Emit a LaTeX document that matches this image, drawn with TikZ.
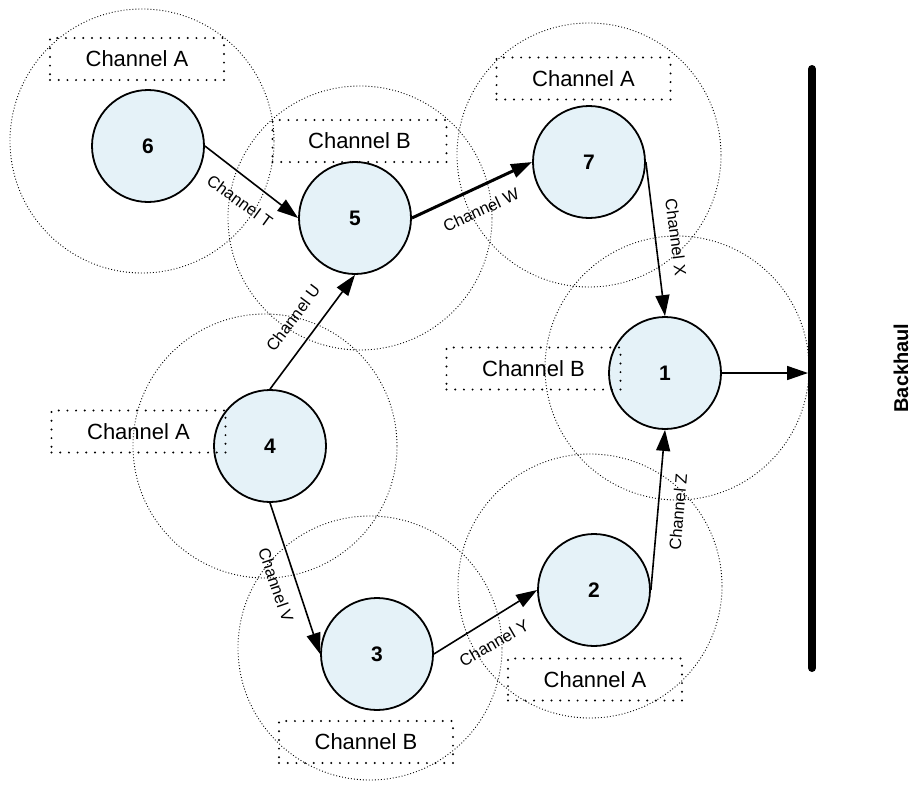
\documentclass[tikz,border=0pt]{standalone}
\usepackage{fontspec}
\setmainfont{Liberation Sans}
\usetikzlibrary{arrows.meta}
\definecolor{nodefill}{RGB}{229,242,248}
\begin{document}
\begin{tikzpicture}[x=1pt,y=-1pt,
  station/.style={circle, draw, line width=1.8pt, fill=nodefill,
    minimum size=112pt, inner sep=0pt, font=\fontsize{21}{24}\selectfont\bfseries},
  coverage/.style={draw, line width=0.9pt, dash pattern=on 0.9pt off 2.1pt},
  chanbox/.style={draw, line width=2.2pt, dash pattern=on 0pt off 8.7pt,
    line cap=round, minimum width=174pt, minimum height=42pt, inner sep=0pt,
    font=\fontsize{22}{26}\selectfont},
  link/.style={line width=1.6pt, -{Triangle[length=21pt,width=14pt]}},
  elabel/.style={font=\fontsize{16.5}{19}\selectfont, inner sep=1pt},
]
\useasboundingbox (0,0) rectangle (916,785);

% coverage areas of the stations
\coordinate (c6) at (142,141);
\coordinate (c5) at (360,218);
\coordinate (c7) at (589,155);
\coordinate (c1) at (677,368);
\coordinate (c4) at (265,446);
\coordinate (c3) at (370,648);
\coordinate (c2) at (590,586);
\foreach \c in {c6,c5,c7,c1,c4,c3,c2}
  \draw[coverage] (\c) circle[radius=132pt];

% stations
\node[station] (n6) at (148,146) {6};
\node[station] (n5) at (355,218) {5};
\node[station] (n7) at (589,162) {7};
\node[station] (n1) at (665,373) {1};
\node[station] (n4) at (270,446) {4};
\node[station] (n3) at (377,654) {3};
\node[station] (n2) at (594,590) {2};

% backhaul bus
\coordinate (bhtop) at (812,69);
\coordinate (bhbot) at (812,668);
\coordinate (bhin) at (808,373);
\draw[line width=8pt, line cap=round] (bhtop) -- (bhbot);
\node[rotate=90, font=\fontsize{20}{24}\selectfont\bfseries] (bhlabel) at (901,368) {Backhaul};

% links between stations
\draw[link] (n6.east) -- (n5.west);
\draw[link, line width=3pt] (n5.east) -- (n7.west);
\draw[link] (n7.east) -- (n1.north);
\draw[link] (n4.north) -- (n5.south);
\draw[link] (n4.south) -- (n3.west);
\draw[link] (n3.east) -- (n2.west);
\draw[link] (n2.east) -- (n1.south);
\draw[link] (n1.east) -- (bhin);

% link labels
\node[elabel, rotate=-36]   (lT) at (240,201) {Channel T};
\node[elabel, rotate=25]    (lW) at (481,210) {Channel W};
\node[elabel, rotate=-82.5] (lX) at (676,237) {Channel X};
\node[elabel, rotate=85]    (lZ) at (678,512) {Channel Z};
\node[elabel, rotate=53]    (lU) at (293,318) {Channel U};
\node[elabel, rotate=-71]   (lV) at (276,585) {Channel V};
\node[elabel, rotate=30]    (lY) at (494,643) {Channel Y};

% channel assignments
\node[chanbox] (b6) at (137,59)      {Channel A};
\node[chanbox] (b5) at (359.5,141)   {Channel B};
\node[chanbox] (b7) at (583.5,78.5)  {Channel A};
\node[chanbox] (b1) at (533.5,368.5) {Channel B};
\node[chanbox] (b4) at (138.5,431.5) {Channel A};
\node[chanbox] (b3) at (366,742)     {Channel B};
\node[chanbox] (b2) at (595,679.5)   {Channel A};
\end{tikzpicture}
\end{document}
